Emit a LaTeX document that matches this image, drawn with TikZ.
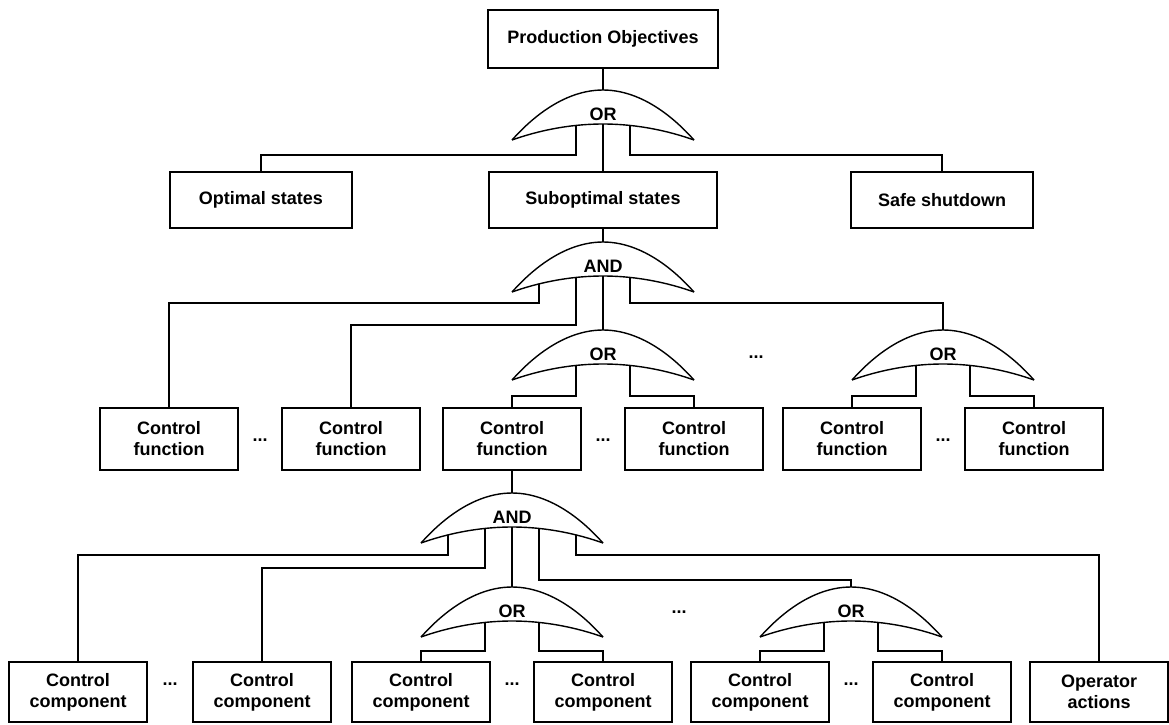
\documentclass[tikz,border=0pt]{standalone}
\usepackage{fontspec}
\setmainfont{Liberation Sans}
\begin{document}
\begin{tikzpicture}[x=1pt,y=-1pt,line width=1.4pt,
  txt/.style={font=\bfseries\fontsize{18}{21}\selectfont},
  box/.style={draw,txt,inner sep=0pt,align=center},
  topbox/.style={box,minimum width=230pt,minimum height=58pt},
  statebox/.style={box,minimum width=182pt,minimum height=56pt},
  funcbox/.style={box,minimum width=138pt,minimum height=62pt},
  compbox/.style={box,minimum width=138pt,minimum height=60pt},
  gatelabel/.style={txt,inner sep=0pt},
  ellipsis/.style={txt,inner sep=0pt},
  gate/.pic={
    \draw (-91,50) parabola bend (0,0) (91,50);
    \draw (-91,50) parabola bend (0,34) (91,50);
    \node[gatelabel] (-label) at (0,24) {#1};
    \coordinate (-top) at (0,0);
    \coordinate (-c) at (0,34);
    \coordinate (-l1) at (-27,35.4);
    \coordinate (-r1) at (27,35.4);
    \coordinate (-l2) at (-64,41.9);
    \coordinate (-r2) at (64,41.9);
  }]
\fill[white] (0,0) rectangle (1169,724);
\useasboundingbox (0,0) rectangle (1169,724);

% bus levels for the branch lines
\coordinate (yA) at (0,155);
\coordinate (yB1) at (0,303);
\coordinate (yB2) at (0,325);
\coordinate (yC) at (0,396);
\coordinate (yD1) at (0,555);
\coordinate (yD2) at (0,568);
\coordinate (yD3) at (0,580);
\coordinate (yE) at (0,651);

% level 0 and 1
\node[topbox] (po) at (603,39) {Production Objectives};
\pic (g1) at (603,90) {gate=OR};
\node[statebox] (opt) at (261,200) {Optimal states};
\node[box,minimum width=228pt,minimum height=56pt] (sub) at (603,200) {Suboptimal states};
\node[statebox] (safe) at (942,200) {Safe shutdown};

% level 2: control functions
\pic (g2) at (603,242) {gate=AND};
\pic (g3) at (603,330) {gate=OR};
\pic (g4) at (943,330) {gate=OR};
\node[ellipsis] (d1) at (756,357) {...};
\node[funcbox] (cf1) at (169,439) {Control\\function};
\node[funcbox] (cf2) at (351,439) {Control\\function};
\node[funcbox] (cf3) at (512,439) {Control\\function};
\node[funcbox] (cf4) at (694,439) {Control\\function};
\node[funcbox] (cf5) at (852,439) {Control\\function};
\node[funcbox] (cf6) at (1034,439) {Control\\function};
\node[ellipsis] (d2) at (260,440) {...};
\node[ellipsis] (d3) at (603,440) {...};
\node[ellipsis] (d4) at (943,440) {...};

% level 3: control components
\pic (g5) at (512,493) {gate=AND};
\pic (g6) at (512,587) {gate=OR};
\pic (g7) at (851,587) {gate=OR};
\node[ellipsis] (d5) at (679,612) {...};
\node[compbox] (cc1) at (78,692) {Control\\component};
\node[compbox] (cc2) at (262,692) {Control\\component};
\node[compbox] (cc3) at (421,692) {Control\\component};
\node[compbox] (cc4) at (603,692) {Control\\component};
\node[compbox] (cc5) at (760,692) {Control\\component};
\node[compbox] (cc6) at (942,692) {Control\\component};
\node[compbox] (op) at (1099,692) {Operator\\actions};
\node[ellipsis] (d6) at (170,684) {...};
\node[ellipsis] (d7) at (512,684) {...};
\node[ellipsis] (d8) at (851,684) {...};

% connectors
\draw (po.south) -- (g1-top);
\draw (g1-l1) -- (g1-l1 |- yA) -| (opt.north);
\draw (g1-c) -- (sub.north);
\draw (g1-r1) -- (g1-r1 |- yA) -| (safe.north);

\draw (sub.south) -- (g2-top);
\draw (g2-l2) -- (g2-l2 |- yB1) -| (cf1.north);
\draw (g2-l1) -- (g2-l1 |- yB2) -| (cf2.north);
\draw (g2-c) -- (g3-top);
\draw (g2-r1) -- (g2-r1 |- yB1) -| (g4-top);
\draw (g3-l1) -- (g3-l1 |- yC) -| (cf3.north);
\draw (g3-r1) -- (g3-r1 |- yC) -| (cf4.north);
\draw (g4-l1) -- (g4-l1 |- yC) -| (cf5.north);
\draw (g4-r1) -- (g4-r1 |- yC) -| (cf6.north);

\draw (cf3.south) -- (g5-top);
\draw (g5-l2) -- (g5-l2 |- yD1) -| (cc1.north);
\draw (g5-l1) -- (g5-l1 |- yD2) -| (cc2.north);
\draw (g5-c) -- (g6-top);
\draw (g5-r1) -- (g5-r1 |- yD3) -| (g7-top);
\draw (g5-r2) -- (g5-r2 |- yD1) -| (op.north);
\draw (g6-l1) -- (g6-l1 |- yE) -| (cc3.north);
\draw (g6-r1) -- (g6-r1 |- yE) -| (cc4.north);
\draw (g7-l1) -- (g7-l1 |- yE) -| (cc5.north);
\draw (g7-r1) -- (g7-r1 |- yE) -| (cc6.north);
\end{tikzpicture}
\end{document}
